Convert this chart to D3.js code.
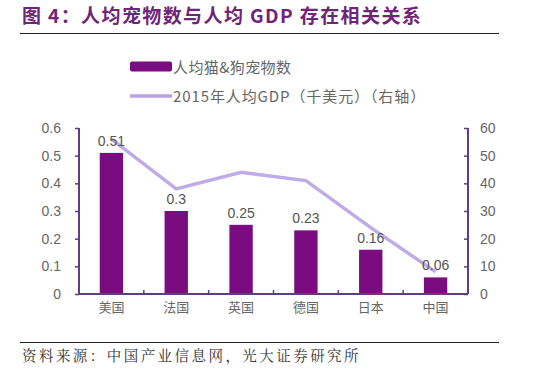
<!DOCTYPE html>
<html>
<head>
<meta charset="utf-8">
<script src="https://cdn.jsdelivr.net/npm/d3@7"></script>
<style>
  body { margin: 0; background: #fff; }
  svg { display: block; font-family: "Liberation Sans", Arial, "Noto Sans CJK SC", sans-serif; }
</style>
</head>
<body>
<svg id="chart" width="544" height="389"></svg>
<script>
// data
var countries = ["美国", "法国", "英国", "德国", "日本", "中国"];
var petsPerCapita = [0.51, 0.3, 0.25, 0.23, 0.16, 0.06]; // 人均猫&狗宠物数
var gdpPerCapita = [56, 38, 44, 41, 24, 8];   // 2015年人均GDP（千美元）
var leftTicks = [0, 0.1, 0.2, 0.3, 0.4, 0.5, 0.6];
var rightTicks = [0, 10, 20, 30, 40, 50, 60];

var width = 544, height = 389;
var svg = d3.select("#chart");

var barColor = "#7a0b80",
    lineColor = "#b8a2e3",
    axisColor = "#5e3d80",
    textColor = "#666";

// title + rules
svg.append("text")
    .attr("x", 22).attr("y", 23)
    .attr("fill", "#6f2477")
    .attr("font-size", 19).attr("font-weight", "bold")
    .attr("letter-spacing", 1.4)
    .style("font-family", "'Noto Sans CJK SC', sans-serif")
    .text("图 4：人均宠物数与人均 GDP 存在相关关系");

svg.append("line").attr("x1", 20).attr("x2", 499).attr("y1", 33.5).attr("y2", 33.5)
    .attr("stroke", "#222").attr("stroke-width", 1.2);
svg.append("line").attr("x1", 20).attr("x2", 499).attr("y1", 342.5).attr("y2", 342.5)
    .attr("stroke", "#222").attr("stroke-width", 1.2);

svg.append("text")
    .attr("x", 22).attr("y", 361)
    .attr("fill", "#333").attr("font-size", 14.5)
    .attr("letter-spacing", 2.45)
    .style("font-family", "'Noto Serif CJK SC', 'Noto Sans CJK SC', serif")
    .text("资料来源：中国产业信息网，光大证券研究所");

// legend
var legend = svg.append("g").attr("font-size", 15).attr("fill", textColor);
legend.append("rect").attr("x", 130).attr("y", 61.5).attr("width", 42).attr("height", 10)
    .attr("rx", 2).attr("fill", barColor);
legend.append("text").attr("x", 173).attr("y", 72.5).text("人均猫&狗宠物数")
    .attr("letter-spacing", 0.4)
    .style("font-family", "'Noto Sans CJK SC', sans-serif").attr("fill", textColor);
legend.append("line").attr("x1", 130).attr("x2", 172).attr("y1", 96).attr("y2", 96)
    .attr("stroke", lineColor).attr("stroke-width", 3.5);
legend.append("text").attr("x", 173).attr("y", 101.5).text("2015年人均GDP（千美元）（右轴）")
    .attr("letter-spacing", 0.9)
    .style("font-family", "'Noto Sans CJK SC', sans-serif").attr("fill", textColor);

// scales
var x = d3.scaleBand().domain(countries).range([79, 468]).paddingInner(0.64).paddingOuter(0.32);
var yL = d3.scaleLinear().domain([0, 0.6]).range([294, 128]);
var yR = d3.scaleLinear().domain([0, 60]).range([294, 128]);

// bars
svg.append("g").selectAll("rect")
    .data(petsPerCapita)
    .join("rect")
    .attr("x", function(d, i) { return x(countries[i]); })
    .attr("y", function(d) { return yL(d); })
    .attr("width", x.bandwidth())
    .attr("height", function(d) { return yL(0) - yL(d); })
    .attr("fill", barColor);

// line
var line = d3.line()
    .x(function(d, i) { return x(countries[i]) + x.bandwidth() / 2; })
    .y(function(d) { return yR(d); });
svg.append("path")
    .datum(gdpPerCapita)
    .attr("d", line)
    .attr("fill", "none")
    .attr("stroke", lineColor)
    .attr("stroke-width", 3.5)
    .attr("opacity", 0.9);

// bar labels
svg.append("g").selectAll("text")
    .data(petsPerCapita)
    .join("text")
    .attr("x", function(d, i) { return x(countries[i]) + x.bandwidth() / 2; })
    .attr("y", function(d) { return yL(d) - 7; })
    .attr("text-anchor", "middle")
    .attr("font-size", 14)
    .attr("fill", "#555")
    .text(function(d) { return d; });

// axes
var leftAxis = svg.append("g")
    .attr("transform", "translate(79,0)")
    .call(d3.axisLeft(yL).tickValues(leftTicks).tickSize(4).tickPadding(14)
        .tickFormat(function(d) { return d === 0 ? "0" : d3.format(".1f")(d); }));
var rightAxis = svg.append("g")
    .attr("transform", "translate(468,0)")
    .call(d3.axisRight(yR).tickValues(rightTicks).tickSizeInner(-4).tickSizeOuter(0).tickPadding(12));
var bottomAxis = svg.append("g")
    .attr("transform", "translate(0,294)")
    .call(d3.axisBottom(x).tickSize(0).tickPadding(9));

[leftAxis, rightAxis, bottomAxis].forEach(function(g) {
    g.select(".domain").attr("stroke", axisColor).attr("stroke-width", 2);
    g.selectAll(".tick line").attr("stroke", axisColor).attr("stroke-width", 1.5);
    g.selectAll(".tick text").attr("fill", textColor).attr("font-size", 14);
});
leftAxis.select(".domain").attr("d", "M0,128V294");
rightAxis.select(".domain").attr("d", "M0,128V294");
bottomAxis.select(".domain").attr("d", "M79,0H468");
bottomAxis.selectAll(".tick text")
    .style("font-family", "'Noto Sans CJK SC', sans-serif").attr("font-size", 13);

// separators between categories on the x axis
svg.append("g").selectAll("line")
    .data(countries.slice(1))
    .join("line")
    .attr("x1", function(d) { return x(d) - x.step() * x.paddingInner() / 2; })
    .attr("x2", function(d) { return x(d) - x.step() * x.paddingInner() / 2; })
    .attr("y1", 294).attr("y2", 290)
    .attr("stroke", axisColor).attr("stroke-width", 1.5);
</script>
</body>
</html>
